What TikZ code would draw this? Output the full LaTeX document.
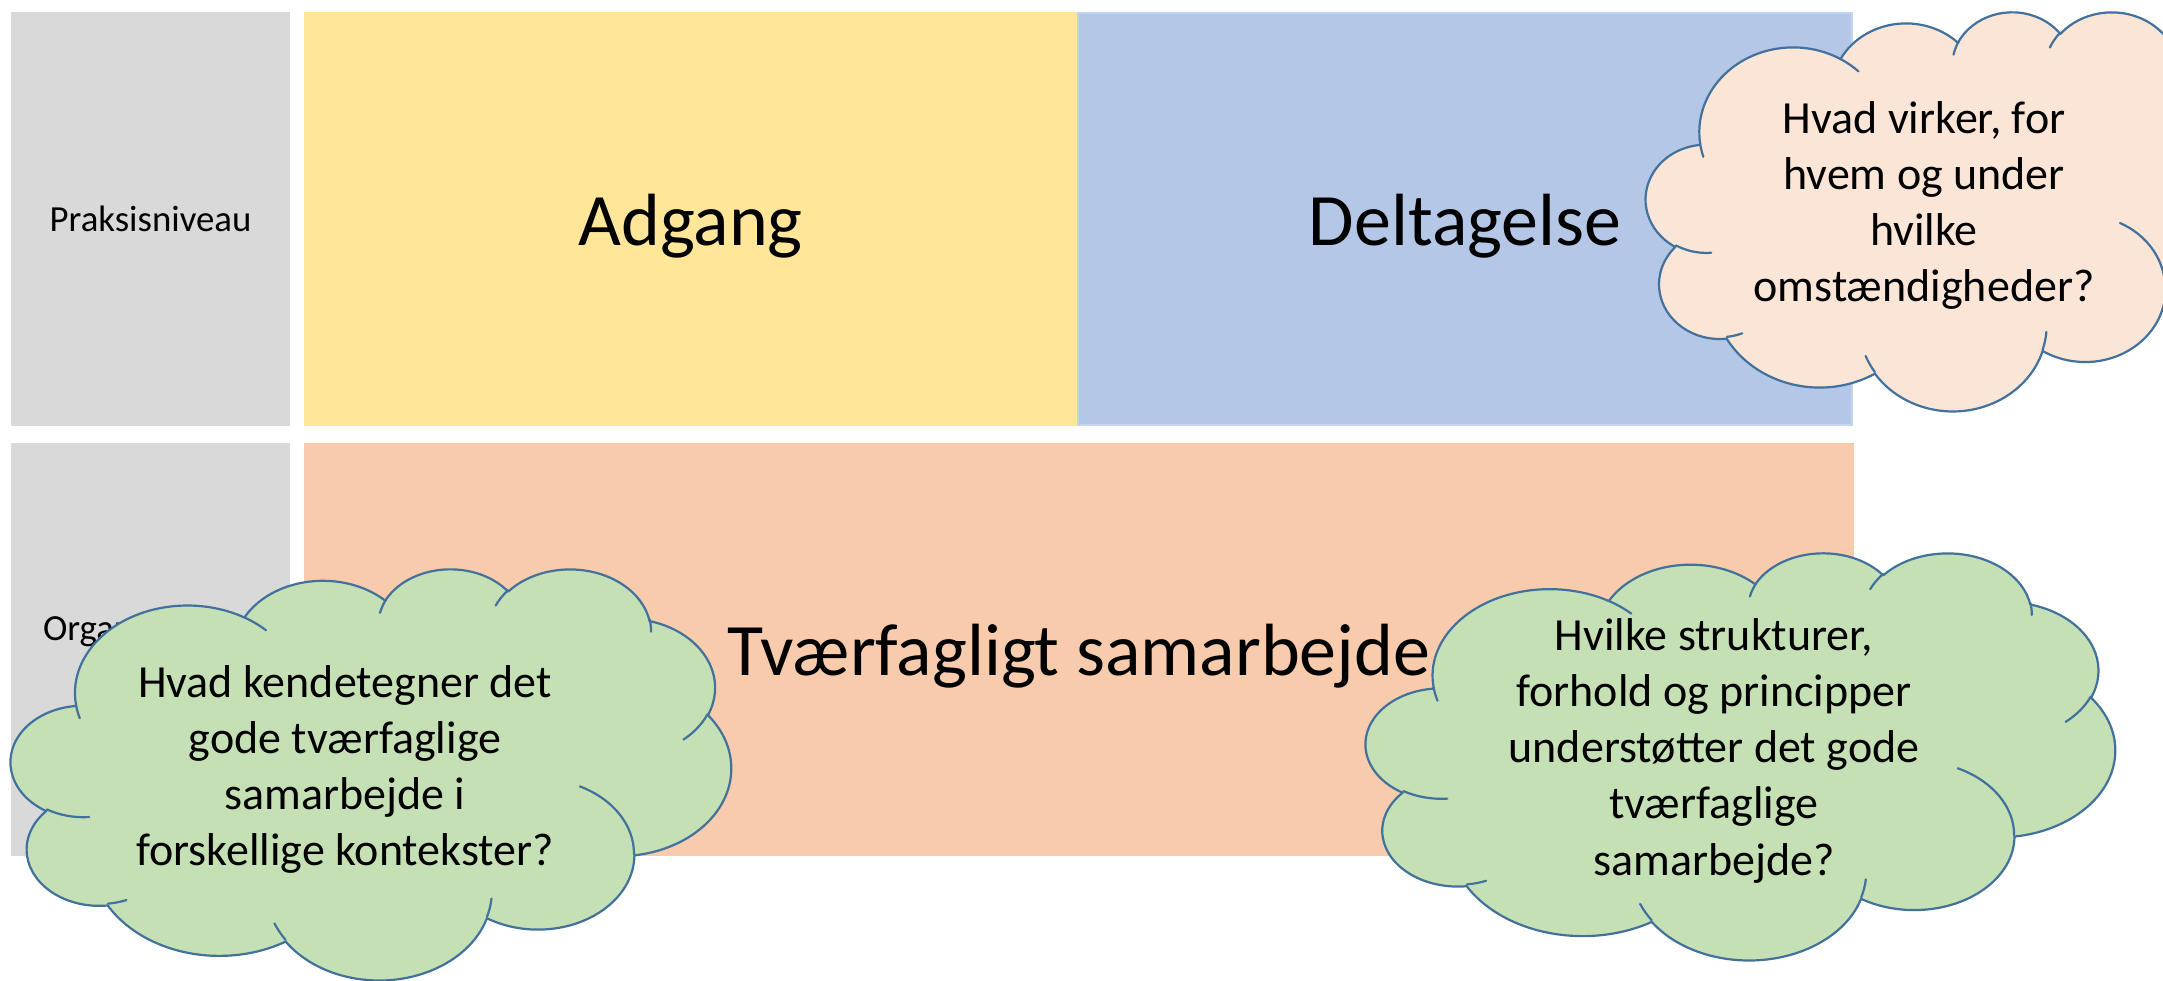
\documentclass[tikz,border=0pt]{standalone}
\usepackage{fontspec}
\setmainfont{Carlito}
\usepackage{xfp}
\definecolor{graybox}{HTML}{D9D9D9}
\definecolor{yellowbox}{HTML}{FFE699}
\definecolor{bluebox}{HTML}{B4C7E7}
\definecolor{blueedge}{HTML}{C3D4EE}
\definecolor{orangebox}{HTML}{F8CBAD}
\definecolor{peachcloud}{HTML}{FBE5D6}
\definecolor{greencloud}{HTML}{C5E0B4}
\definecolor{cloudline}{HTML}{41719C}
% parametric angle of an ellipse point given by its visual angle
\newcommand\pang[3]{atand((#1)*sind(#3),(#2)*cosd(#3))}
\newcommand\cdel[4]{((\pang{#1}{#2}{((#3)+(#4))/60000})-(\pang{#1}{#2}{(#3)/60000}))}
\newcommand\carc[4]{arc[x radius=\fpeval{(#1)/2000}pt,y radius=\fpeval{(#2)/2000}pt,start angle=\fpeval{round(\pang{#1}{#2}{(#3)/60000},4)},delta angle=\fpeval{round(\cdel{#1}{#2}{#3}{#4}-360*floor(\cdel{#1}{#2}{#3}{#4}/360),4)}] }
\xdef\cloudouter{(3.9,14.37) \carc{6753}{9190}{-11429249}{7426832}\carc{5333}{7267}{-8646143}{5396714}\carc{4365}{5945}{-8748475}{5983381}\carc{4857}{6595}{-7859164}{7034504}\carc{5333}{7273}{-4722533}{6541615}\carc{6775}{9220}{-2776035}{7816140}\carc{5785}{7867}{37501}{6842000}\carc{6752}{9215}{1347096}{6910353}\carc{7720}{10543}{3974558}{4542661}\carc{4360}{5918}{-16496525}{8804134}\carc{4345}{5945}{-14809710}{9151503} -- cycle}
\xdef\cloudpuffs{(4.693,26.177) \carc{4345}{5945}{5204520}{1585770}(6.928,34.899) \carc{4360}{5918}{4416628}{686848}(16.478,39.09) \carc{6752}{9215}{8257449}{844866}(28.827,34.751) \carc{6752}{9215}{387196}{959901}(34.129,22.954) \carc{5785}{7867}{-4217541}{4255042}(41.798,15.354) \carc{5333}{7273}{1819082}{1665090}(38.324,5.426) \carc{4857}{6595}{-824660}{891534}(29.078,3.952) \carc{4857}{6595}{-8950887}{1091722}(22.141,4.72) \carc{4365}{5945}{-9809656}{1061181}(14,5.192) \carc{6753}{9190}{-4002417}{739161}(4.127,15.789) \carc{6753}{9190}{9459261}{711490}}
\begin{document}
\begin{tikzpicture}[x=0.5pt, y=-0.5pt,
  box/.style 2 args={rectangle, inner sep=0pt, outer sep=0pt, anchor=north west,
    minimum width={#1*0.5pt}, minimum height={#2*0.5pt}},
  lbl/.style={inner sep=0pt, outer sep=0pt, anchor=base, text=black},
  bigtxt/.style={lbl, font=\fontsize{37}{44}\selectfont},
  smalltxt/.style={lbl, font=\fontsize{18.4}{22.6}\selectfont},
  cloudtxt/.style={lbl, font=\fontsize{23}{28.15}\selectfont},
  cloudshape/.style={draw=cloudline, line width=1.1pt, line join=round},
  puffline/.style={draw=cloudline, line width=1.1pt, fill=none, line cap=round}]
\useasboundingbox (0,0) rectangle (2163,980);
\clip (0,0) rectangle (2163,980);
% level boxes
\node[box={279}{414}, fill=graybox] (g1) at (11,12) {};
\node[box={773}{414}, fill=yellowbox] (adg) at (304,12) {};
\node[box={774}{412}, fill=bluebox, draw=blueedge, line width=1pt] (del) at (1078,13) {};
\node[box={279}{413}, fill=graybox] (g2) at (11,443) {};
\node[box={1550}{413}, fill=orangebox] (tvf) at (304,443) {};
% labels
\node[smalltxt] (t1) at (150.5,231) {Praksisniveau};
\node[smalltxt, anchor=base west] (t2) at (43,640) {Organisationsniveau};
\node[bigtxt] (t3) at (690.5,245) {Adgang};
\node[bigtxt] (t4) at (1465,245) {Deltagelse};
\node[bigtxt] (t5) at (1079,675) {Tværfagligt samarbejde};
% cloud 1 (peach)
\begin{scope}[shift={(1646,11)}, y=0.5pt, xscale=600/43.2, yscale=-399/43.2]
  \path[cloudshape, fill=peachcloud] \cloudouter;
  \path[puffline] \cloudpuffs;
\end{scope}
\node[cloudtxt] (q1) at (1924,133) {\begin{tabular}[t]{@{}c@{}}Hvad virker, for\\hvem og under\\hvilke\\omstændigheder?\end{tabular}};
% cloud 2 (green, left)
\begin{scope}[shift={(11,568)}, y=0.5pt, xscale=720/43.2, yscale=-411/43.2]
  \path[cloudshape, fill=greencloud] \cloudouter;
  \path[puffline] \cloudpuffs;
\end{scope}
\node[cloudtxt] (q2) at (345,697) {\begin{tabular}[t]{@{}c@{}}Hvad kendetegner det\\gode tværfaglige\\samarbejde i\\forskellige kontekster?\end{tabular}};
% cloud 3 (green, right)
\begin{scope}[shift={(1366,552)}, y=0.5pt, xscale=749/43.2, yscale=-407/43.2]
  \path[cloudshape, fill=greencloud] \cloudouter;
  \path[puffline] \cloudpuffs;
\end{scope}
\node[cloudtxt] (q3) at (1714,650) {\begin{tabular}[t]{@{}c@{}}Hvilke strukturer,\\forhold og principper\\understøtter det gode\\tværfaglige\\samarbejde?\end{tabular}};
\end{tikzpicture}
\end{document}
